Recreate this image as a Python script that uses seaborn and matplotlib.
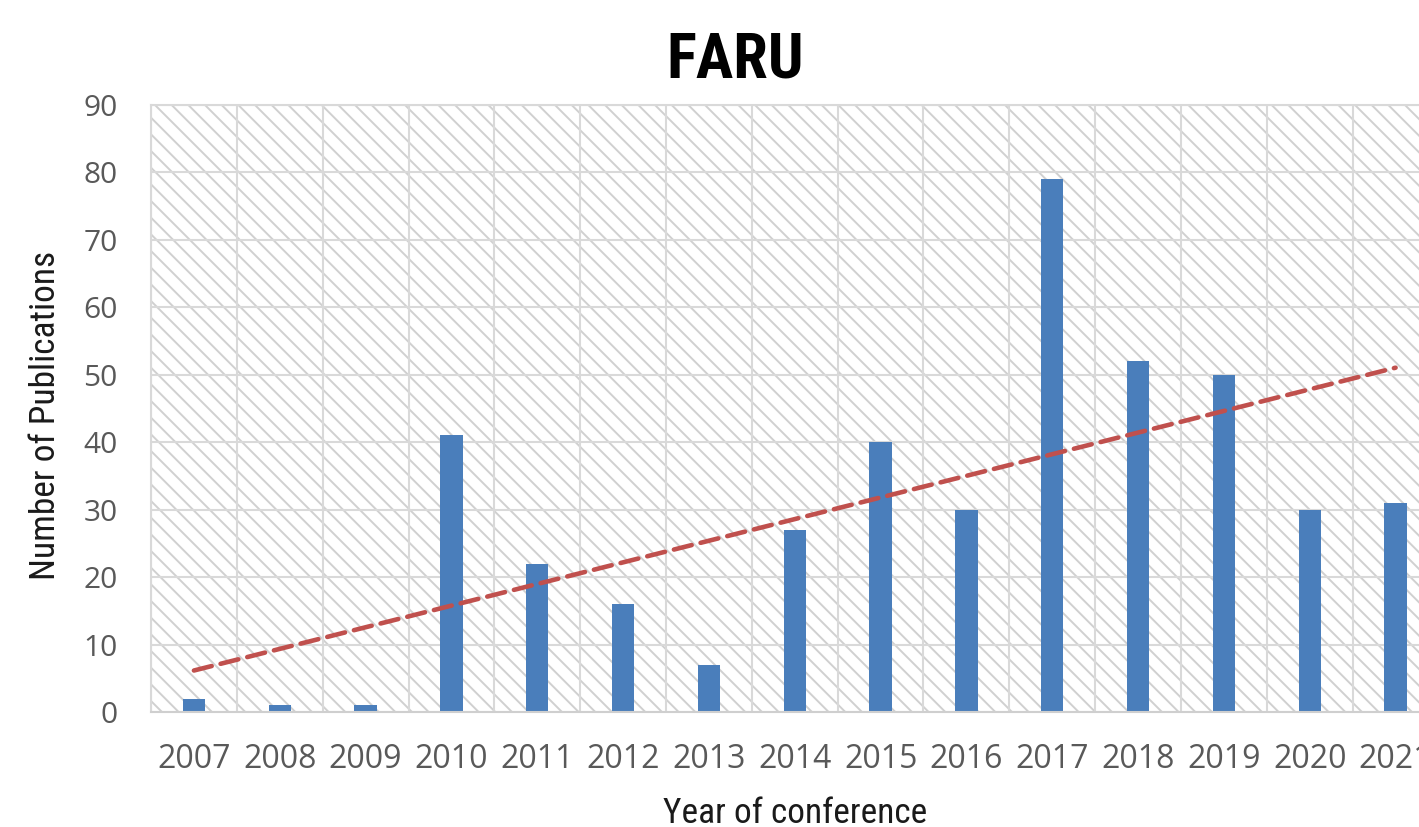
import numpy as np
import pandas as pd
import matplotlib
matplotlib.use("Agg")
import matplotlib.pyplot as plt
from matplotlib.patches import Rectangle
import seaborn as sns

# ---- data ----
years = ["2007", "2008", "2009", "2010", "2011", "2012", "2013", "2014",
         "2015", "2016", "2017", "2018", "2019", "2020", "2021"]
publications = [2, 1, 1, 41, 22, 16, 7, 27, 40, 30, 79, 52, 50, 30, 31]
y_ticks = [0, 10, 20, 30, 40, 50, 60, 70, 80, 90]
title = "FARU"
x_label = "Year of conference"
y_label = "Number of Publications"

BAR = "#4A7EBB"
TREND = "#C0504D"
GRID = "#D9D9D9"
HATCH = "#D0D0D0"
TICK = "#595959"

sns.set_style("white")
plt.rcParams["font.family"] = ["Liberation Sans", "DejaVu Sans"]
plt.rcParams["hatch.linewidth"] = 1.4

df = pd.DataFrame({"year": years, "count": publications})
pos = np.arange(len(years))

W, H = 1419, 827
fig = plt.figure(figsize=(W / 100, H / 100), dpi=100)
left, right, top, bottom = 151, 1438.5, 105, 712
ax = fig.add_axes([left / W, 1 - bottom / H, (right - left) / W, (bottom - top) / H])

# hatched background
bg = Rectangle((0, 0), 1, 1, transform=ax.transAxes, facecolor="white",
               edgecolor=HATCH, linewidth=0, hatch="\\\\", zorder=0.1)
ax.add_patch(bg)

sns.barplot(data=df, x="year", y="count", color=BAR, width=0.26,
            saturation=1, ax=ax, zorder=2, linewidth=0)

sns.regplot(x=pos, y=np.array(publications, dtype=float), scatter=False, ci=None,
            ax=ax, truncate=True,
            line_kws=dict(color=TREND, lw=3.3, ls=(0, (4.0, 2.0)), zorder=3,
                          dash_capstyle="round"))

ax.set_xlim(-0.5, len(years) - 0.5)
ax.set_ylim(0, 90)
ax.set_yticks(y_ticks)
ax.set_xticks(pos)
ax.set_xticklabels(years)
ax.set_xticks(np.arange(-0.5, len(years), 1.0), minor=True)

ax.set_axisbelow(True)
ax.grid(False)
ax.yaxis.grid(True, which="major", color=GRID, lw=1.5, zorder=0.5)
ax.xaxis.grid(True, which="minor", color=GRID, lw=1.5, zorder=0.5)
for s in ax.spines.values():
    s.set_color(GRID)
    s.set_linewidth(1.5)
ax.spines["bottom"].set_color("#CFCFCF")

ax.tick_params(axis="x", which="both", length=0, pad=22, labelsize=23,
               labelcolor=TICK)
ax.tick_params(axis="y", which="both", length=0, pad=24, labelsize=21.5,
               labelcolor=TICK)
for lab in ax.get_xticklabels() + ax.get_yticklabels():
    lab.set_fontfamily(["Open Sans", "DejaVu Sans"])

cond = ["Roboto Condensed", "Liberation Sans", "DejaVu Sans"]
ax.set_xlabel(x_label, fontsize=25.5, color="#1A1A1A", va="top", family=cond)
ax.set_ylabel(y_label, fontsize=25.5, color="#1A1A1A", family=cond)
ax.xaxis.set_label_coords(0.5, -0.1400)
ax.yaxis.set_label_coords(-0.069, 0.488)

fig.text(735 / W, 1 - 78 / H, title, ha="center", va="baseline",
         fontsize=45, fontweight="bold", color="black", family=cond)

fig.savefig("out.png", dpi=100)
